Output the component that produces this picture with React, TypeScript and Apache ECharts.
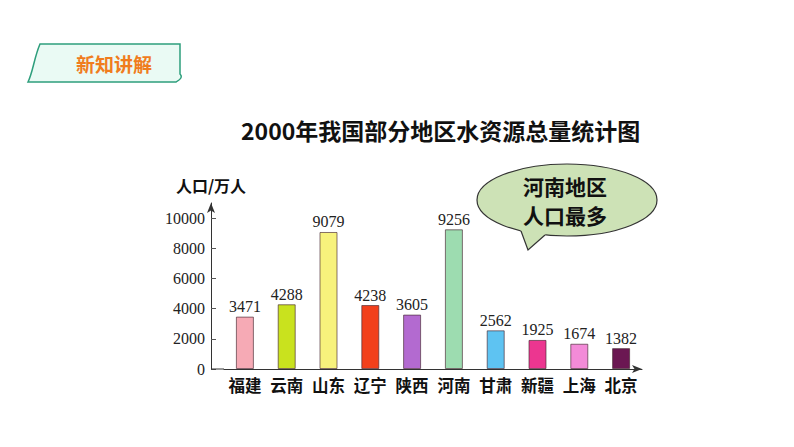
import React, { useEffect, useRef } from "react";
import * as echarts from "echarts";

const categories = ["福建", "云南", "山东", "辽宁", "陕西", "河南", "甘肃", "新疆", "上海", "北京"];
const values = [3471, 4288, 9079, 4238, 3605, 9256, 2562, 1925, 1674, 1382];
const barColors = ["#f6aab5", "#c9e21e", "#f7f27c", "#f2401c", "#b36ad0", "#9ddcb0", "#5ec3f2", "#ec3690", "#f38bd8", "#6b1752"];
const yTicks = [0, 2000, 4000, 6000, 8000, 10000];
const titleText = "2000年我国部分地区水资源总量统计图";
const yName = "人口/万人";
const badgeText = "新知讲解";
const bubbleLines = ["河南地区", "人口最多"];

const CJK = '"Noto Sans CJK SC", "Noto Sans", sans-serif';
const SERIF = '"Liberation Serif", "DejaVu Serif", serif';

echarts.graphic.registerShape(
  "badge",
  echarts.graphic.extendPath(
    "M40 44 L180 44 L180 74 Q183 77 179 80 L176 82 L28 82 C33 72 34 58 40 44 Z",
    {}
  )
);

export default function App() {
  const ref = useRef<HTMLDivElement>(null);
  useEffect(() => {
    if (!ref.current) return;
    const chart = echarts.init(ref.current, null, { renderer: "svg" });
    chart.setOption({
      animation: false,
      backgroundColor: "#ffffff",
      title: {
        text: titleText,
        left: 236,
        top: 113,
        textStyle: { fontFamily: CJK, fontWeight: "bold", fontSize: 23, color: "#111" },
      },
      grid: { left: 224, right: 152, top: 203, bottom: 78 },
      xAxis: {
        type: "category",
        data: categories,
        boundaryGap: true,
        axisLine: { show: true, symbol: ["none", "arrow"], symbolSize: [6, 10], lineStyle: { color: "#333", width: 1 } },
        axisTick: { show: false },
        axisLabel: { interval: 0, hideOverlap: false, margin: 8, fontFamily: CJK, fontWeight: "bold", fontSize: 16.5, color: "#111" },
      },
      yAxis: {
        type: "value",
        min: 0,
        max: 11000,
        interval: 2000,
        offset: 13,
        name: yName,
        nameLocation: "end",
        nameGap: 10,
        nameTextStyle: { fontFamily: CJK, fontWeight: "bold", fontSize: 16, color: "#111" },
        splitLine: { show: false },
        axisLine: { show: true, symbol: ["none", "arrow"], symbolSize: [6, 10], lineStyle: { color: "#333", width: 1 } },
        axisTick: { show: true, inside: true, length: 5, customValues: yTicks, lineStyle: { color: "#555" } },
        axisLabel: {
          customValues: yTicks,
          margin: 6,
          fontFamily: SERIF,
          fontSize: 16,
          color: "#222",
          formatter: (v: number) => String(v),
        },
      },
      series: [
        {
          type: "bar",
          barWidth: 18,
          data: values.map((v, i) => ({
            value: v,
            itemStyle: { color: barColors[i], borderColor: "rgba(70,40,50,0.65)", borderWidth: 1 },
          })),
          label: {
            show: true,
            position: "top",
            distance: 2,
            fontFamily: SERIF,
            fontSize: 16,
            color: "#222",
          },
        },
      ],
      graphic: [
        {
          type: "line",
          shape: { x1: 211, y1: 369, x2: 224, y2: 369 },
          style: { stroke: "#333", lineWidth: 1 },
          z: 10,
        },
        {
          type: "badge",
          x: 0,
          y: 0,
          style: { fill: "#eafaf4", stroke: "#2e9e7c", lineWidth: 1.5 },
        },
        {
          type: "text",
          x: 114,
          y: 63,
          style: {
            text: badgeText,
            fill: "#f07d1e",
            font: `bold 19px ${CJK}`,
            align: "center",
            verticalAlign: "middle",
          },
        },
        {
          type: "ellipse",
          shape: { cx: 567, cy: 200, rx: 90, ry: 36 },
          style: { fill: "#cde2b6", stroke: "#333", lineWidth: 1.2 },
        },
        {
          type: "polygon",
          shape: { points: [[518, 225], [521, 231], [528, 250], [545, 235], [548, 228]] },
          style: { fill: "#cde2b6" },
        },
        {
          type: "polyline",
          shape: { points: [[521, 231], [528, 250], [545, 235]] },
          style: { stroke: "#333", lineWidth: 1.2, fill: null },
        },
        {
          type: "text",
          x: 565,
          y: 186,
          style: { text: bubbleLines[0], fill: "#111", font: `bold 21px ${CJK}`, align: "center", verticalAlign: "middle" },
        },
        {
          type: "text",
          x: 565,
          y: 215,
          style: { text: bubbleLines[1], fill: "#111", font: `bold 21px ${CJK}`, align: "center", verticalAlign: "middle" },
        },
      ],
    });
    return () => chart.dispose();
  }, []);
  return <div ref={ref} style={{ width: 794, height: 447, position: "absolute", left: 0, top: 0 }} />;
}
